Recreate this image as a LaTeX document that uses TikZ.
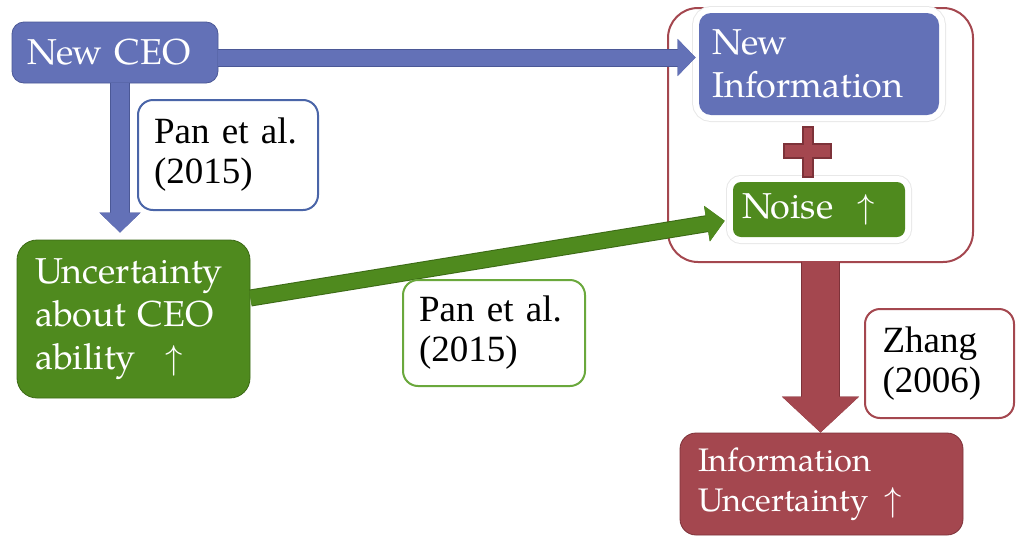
\documentclass[tikz,border=0pt]{standalone}
\usepackage{fontspec}
\setmainfont{TeX Gyre Pagella}
\newfontfamily\labelfont{Liberation Serif}
\usepackage{tikz}
\usetikzlibrary{arrows.meta}

\definecolor{ceoblue}{RGB}{99,113,183}
\definecolor{ceoblueline}{RGB}{75,88,150}
\definecolor{ceogreen}{RGB}{79,138,30}
\definecolor{ceogreenline}{RGB}{60,106,22}
\definecolor{ceored}{RGB}{164,71,79}
\definecolor{ceoredline}{RGB}{125,50,57}
\definecolor{labblue}{RGB}{74,101,168}
\definecolor{labgreen}{RGB}{106,168,60}

\tikzset{
  box/.style={text=white, align=left, inner sep=0pt, rounded corners=6pt,
    font=\fontsize{18}{21.5}\selectfont},
  halo/.style={preaction={draw=black!9, line width=7pt},
    preaction={draw=white, line width=6pt}},
  cite/.style={draw, line width=1pt, fill=white, align=left, inner sep=0pt,
    rounded corners=7.5pt, font=\labelfont\fontsize{18.5}{20}\selectfont},
}

\begin{document}
\begin{tikzpicture}[x=0.5pt,y=-0.5pt]
	\useasboundingbox (0,0) rectangle (1017,541);

	% boxes
	\node[box, fill=ceoblue, draw=ceoblueline, minimum width=103pt, minimum height=30.5pt,
	  text width=88pt] (ceo) at (115,52.5) {New CEO};
	\node[box, fill=ceogreen, draw=ceogreenline, rounded corners=10pt, minimum width=116.5pt,
	  minimum height=79pt, text width=98.5pt] (unc) at (133.5,319)
	  {Uncertainty\\about CEO\\ability \hspace{9pt}$\uparrow$};
	\draw[ceored, line width=1pt, rounded corners=15pt] (668,8) rectangle (973,262);
	\coordinate (outer) at (820.5,262);
	\node[box, halo, fill=ceoblue, minimum width=120pt, minimum height=51pt,
	  text width=107pt] (newinfo) at (819,64) {New\\Information};
	\node[box, halo, fill=ceogreen, minimum width=86pt, minimum height=27.5pt,
	  text width=77pt, rounded corners=4pt] (noise) at (819,209.5) {Noise\hspace{12pt}$\uparrow$};
	\node[box, fill=ceored, draw=ceoredline, rounded corners=8pt, minimum width=141.5pt,
	  minimum height=51pt, text width=123.5pt, font=\fontsize{16.3}{20}\selectfont]
	  (infounc) at (821.5,484) {Information\\Uncertainty\hspace{8pt}$\uparrow$};

	% plus
	\filldraw[fill=ceored, draw=ceoredline, line width=0.6pt]
	  (803,127) -- (813,127) -- (813,144) -- (831,144) -- (831,158) -- (813,158)
	  -- (813,177) -- (803,177) -- (803,158) -- (784,158) -- (784,144) -- (803,144) -- cycle;

	% arrows
	\draw[ceoblue, line width=8pt, -{Triangle[width=18pt,length=9pt]},
	  preaction={draw=ceoblueline, line width=9pt}, shorten >=1.5pt]
	  ([yshift=-2.5pt]ceo.east) -- ([yshift=-2.5pt]ceo.east -| newinfo.west);
	\draw[ceoblue, line width=9pt, -{Triangle[width=20pt,length=10pt]},
	  preaction={draw=ceoblueline, line width=10pt}, shorten >=3.5pt]
	  ([xshift=2.5pt]ceo.south) -- ([xshift=2.5pt]ceo.south |- unc.north);
	\draw[ceogreen, line width=7.5pt, -{Triangle[width=17.5pt,length=9pt]},
	  preaction={draw=ceogreenline, line width=8.5pt}, shorten >=4pt]
	  ([yshift=10.5pt]unc.east) -- ([yshift=-5pt]noise.west);
	\draw[ceored, line width=18.5pt, -{Triangle[width=37.5pt,length=18pt]},
	  preaction={draw=ceoredline, line width=19.5pt}]
	  (outer) -- (outer |- infounc.north);

	% citations
	\node[cite, draw=labblue, minimum width=90pt, minimum height=55pt, text width=74pt]
	  (cite1) at (228,155) {Pan et al.\\(2015)};
	\node[cite, draw=labgreen, minimum width=91pt, minimum height=53pt, text width=75pt]
	  (cite2) at (494,333) {Pan et al.\\(2015)};
	\node[cite, draw=ceored, minimum width=74.5pt, minimum height=54.5pt, text width=57pt]
	  (cite3) at (939.5,363.5) {Zhang\\(2006)};
\end{tikzpicture}
\end{document}
